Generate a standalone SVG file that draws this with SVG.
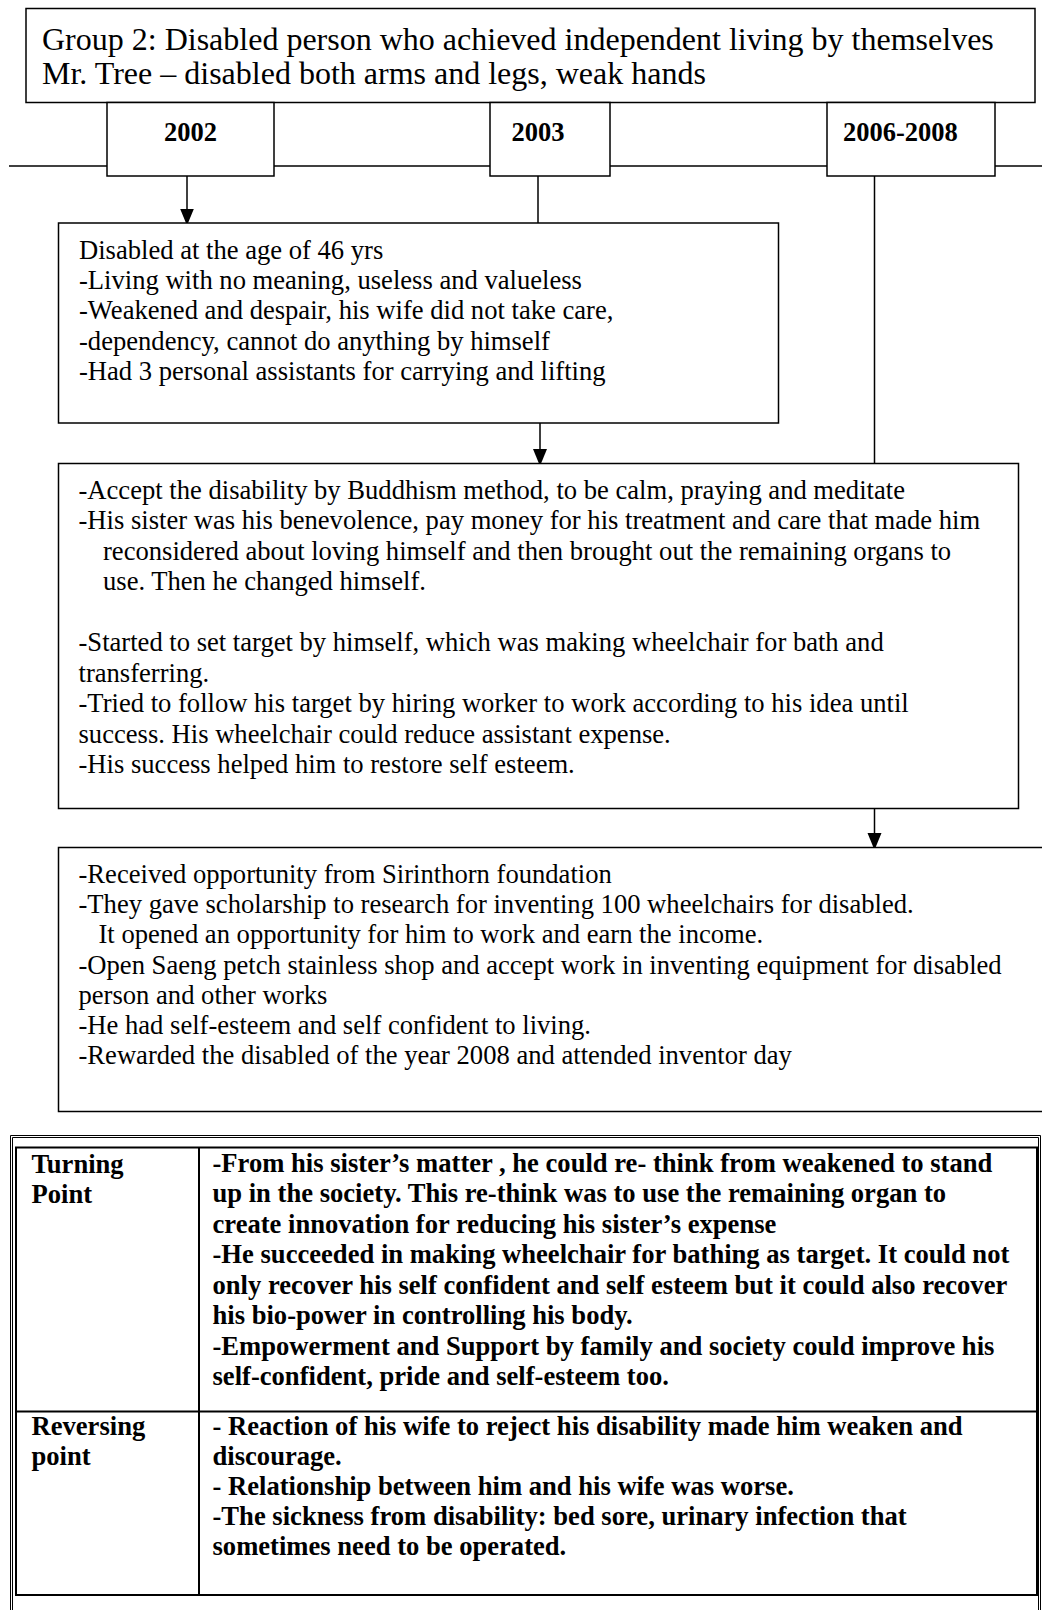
<svg xmlns="http://www.w3.org/2000/svg" width="1042" height="1610" viewBox="0 0 1042 1610">
  <style>
    .box { fill: #fff; stroke: #000; stroke-width: 1.5; }
    .edge { fill: none; stroke: #000; stroke-width: 1.5; }
    .grid { fill: none; stroke: #000; stroke-width: 2; }
    .frame { fill: none; stroke: #000; stroke-width: 1; }
    text { font-family: "Liberation Serif", "Times New Roman", serif; fill: #000; }
    .title { font-size: 32px; }
    .body { font-size: 26.6px; }
    .year { font-size: 26.5px; font-weight: bold; }
    .bold { font-size: 26.6px; font-weight: bold; }
  </style>
  <defs>
    <marker id="arrow" viewBox="0 0 14 17" refX="14" refY="7" markerWidth="14" markerHeight="17" markerUnits="userSpaceOnUse" orient="auto">
      <path d="M0,0 L17,7 L0,14 Z" fill="#000"/>
    </marker>
  </defs>
  <rect width="1042" height="1610" fill="#fff"/>

  <!-- timeline axis and connectors -->
  <g id="connectors">
    <line class="edge" x1="9" y1="166" x2="1042" y2="166"/>
    <line class="edge" x1="187" y1="176" x2="187" y2="222.5" marker-end="url(#arrow)"/>
    <line class="edge" x1="538" y1="176" x2="538" y2="223"/>
    <line class="edge" x1="540" y1="423" x2="540" y2="463" marker-end="url(#arrow)"/>
    <line class="edge" x1="874.5" y1="176" x2="874.5" y2="463"/>
    <line class="edge" x1="874.5" y1="808" x2="874.5" y2="847" marker-end="url(#arrow)"/>
  </g>

  <!-- heading -->
  <g id="title">
    <rect class="box" x="26" y="8.5" width="1009" height="94"/>
    <text class="title" x="42" y="50">Group 2: Disabled person who achieved independent living by themselves</text>
    <text class="title" x="42" y="84">Mr. Tree – disabled both arms and legs, weak hands</text>
  </g>

  <!-- year markers -->
  <g id="year-2002">
    <rect class="box" x="107" y="102.5" width="167" height="73.5"/>
    <text class="year" x="164" y="141">2002</text>
  </g>
  <g id="year-2003">
    <rect class="box" x="490" y="102.5" width="120" height="73.5"/>
    <text class="year" x="511.5" y="141">2003</text>
  </g>
  <g id="year-2006-2008">
    <rect class="box" x="827" y="102.5" width="168" height="73.5"/>
    <text class="year" x="843" y="141">2006-2008</text>
  </g>

  <!-- 2002 stage -->
  <g id="stage-1">
    <rect class="box" x="58.5" y="223" width="720" height="200"/>
    <text class="body" x="79" y="259">Disabled at the age of 46 yrs</text>
    <text class="body" x="79" y="289.2">-Living with no meaning, useless and valueless</text>
    <text class="body" x="79" y="319.4">-Weakened and despair, his wife did not take care,</text>
    <text class="body" x="79" y="349.6">-dependency, cannot do anything by himself</text>
    <text class="body" x="79" y="379.8">-Had 3 personal assistants for carrying and lifting</text>
  </g>

  <!-- 2003 stage -->
  <g id="stage-2">
    <rect class="box" x="58.5" y="463.5" width="960" height="345"/>
    <text class="body" x="78.5" y="498.5">-Accept the disability by Buddhism method, to be calm, praying and meditate</text>
    <text class="body" x="78.5" y="529">-His sister was his benevolence, pay money for his treatment and care that made him</text>
    <text class="body" x="103" y="559.5">reconsidered about loving himself and then brought out the remaining organs to</text>
    <text class="body" x="103" y="590">use. Then he changed himself.</text>
    <text class="body" x="78.5" y="651">-Started to set target by himself, which was making wheelchair for bath and</text>
    <text class="body" x="78.5" y="681.5">transferring.</text>
    <text class="body" x="78.5" y="712">-Tried to follow his target by hiring worker to work according to his idea until</text>
    <text class="body" x="78.5" y="742.5">success. His wheelchair could reduce assistant expense.</text>
    <text class="body" x="78.5" y="773">-His success helped him to restore self esteem.</text>
  </g>

  <!-- 2006-2008 stage -->
  <g id="stage-3">
    <rect class="box" x="58.5" y="847.5" width="1000" height="264"/>
    <text class="body" x="78.5" y="882.5">-Received opportunity from Sirinthorn foundation</text>
    <text class="body" x="78.5" y="913">-They gave scholarship to research for inventing 100 wheelchairs for disabled.</text>
    <text class="body" x="98.5" y="943.3">It opened an opportunity for him to work and earn the income.</text>
    <text class="body" x="78.5" y="973.6">-Open Saeng petch stainless shop and accept work in inventing equipment for disabled</text>
    <text class="body" x="78.5" y="1003.8">person and other works</text>
    <text class="body" x="78.5" y="1034">-He had self-esteem and self confident to living.</text>
    <text class="body" x="78.5" y="1064">-Rewarded the disabled of the year 2008 and attended inventor day</text>
  </g>

  <!-- summary table -->
  <g id="summary-table">
    <path class="frame" d="M10.5,1612 V1135.5 H1040.5 V1612"/>
    <path class="frame" d="M12.5,1612 V1137.5 H1038.5 V1612"/>
    <rect class="grid" x="16" y="1147.5" width="1021" height="447.5"/>
    <line class="grid" x1="199" y1="1147.5" x2="199" y2="1595"/>
    <line class="grid" x1="16" y1="1411.5" x2="1037" y2="1411.5"/>
  </g>
  <g id="turning-point">
    <text class="bold" x="31.5" y="1173">Turning</text>
    <text class="bold" x="31.5" y="1203">Point</text>
    <text class="bold" x="212.5" y="1172">-From his sister’s matter , he could re- think from weakened to stand</text>
    <text class="bold" x="212.5" y="1202.4">up in the society. This re-think was to use the remaining organ to</text>
    <text class="bold" x="212.5" y="1232.8">create innovation for reducing his sister’s expense</text>
    <text class="bold" x="212.5" y="1263.2">-He succeeded in making wheelchair for bathing as target. It could not</text>
    <text class="bold" x="212.5" y="1293.6">only recover his self confident and self esteem but it could also recover</text>
    <text class="bold" x="212.5" y="1324">his bio-power in controlling his body.</text>
    <text class="bold" x="212.5" y="1354.6">-Empowerment and Support by family and society could improve his</text>
    <text class="bold" x="212.5" y="1385">self-confident, pride and self-esteem too.</text>
  </g>
  <g id="reversing-point">
    <text class="bold" x="31.5" y="1435">Reversing</text>
    <text class="bold" x="31.5" y="1465">point</text>
    <text class="bold" x="212.5" y="1435">- Reaction of his wife to reject his disability made him weaken and</text>
    <text class="bold" x="212.5" y="1465">discourage.</text>
    <text class="bold" x="212.5" y="1495">- Relationship between him and his wife was worse.</text>
    <text class="bold" x="212.5" y="1525">-The sickness from disability: bed sore, urinary infection that</text>
    <text class="bold" x="212.5" y="1555">sometimes need to be operated.</text>
  </g>
</svg>
